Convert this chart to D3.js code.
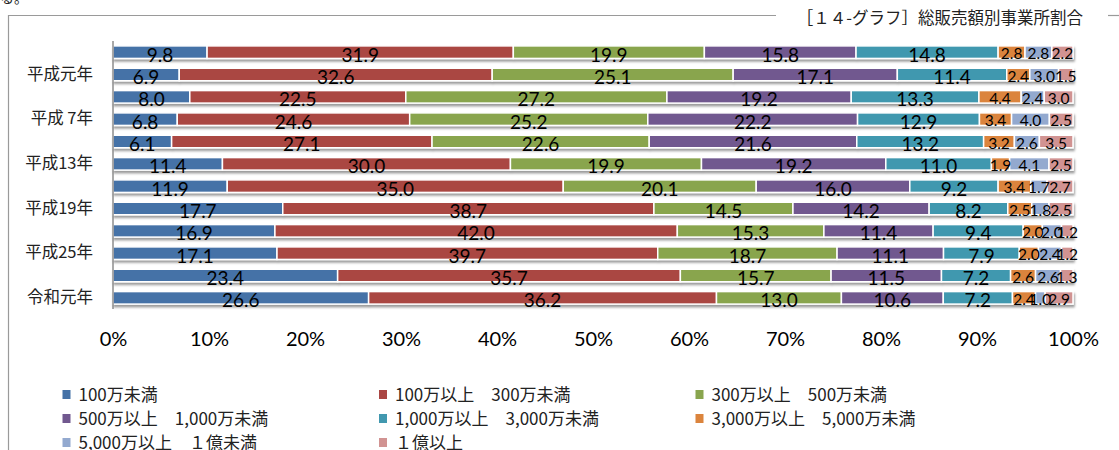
<!DOCTYPE html>
<html><head><meta charset="utf-8">
<script src="https://cdn.jsdelivr.net/npm/d3@7"></script>
<style>
html,body{margin:0;padding:0;background:#fff;}
svg{display:block;}
</style></head>
<body>
<svg id="chart" width="1119" height="450"></svg>
<script>
// ---- data ----
const categories = ["昭和61年","平成元年","平成4年","平成 7年","平成10年","平成13年","平成16年","平成19年","平成22年","平成25年","平成28年","令和元年"];
const shownLabels = ["平成元年","平成 7年","平成13年","平成19年","平成25年","令和元年"];
const seriesNames = ["100万未満","100万以上　300万未満","300万以上　500万未満","500万以上　1,000万未満","1,000万以上　3,000万未満","3,000万以上　5,000万未満","5,000万以上　１億未満","１億以上"];
const s1 = [9.8, 6.9, 8.0, 6.8, 6.1, 11.4, 11.9, 17.7, 16.9, 17.1, 23.4, 26.6];
const s2 = [31.9, 32.6, 22.5, 24.6, 27.1, 30.0, 35.0, 38.7, 42.0, 39.7, 35.7, 36.2];
const s3 = [19.9, 25.1, 27.2, 25.2, 22.6, 19.9, 20.1, 14.5, 15.3, 18.7, 15.7, 13.0];
const s4 = [15.8, 17.1, 19.2, 22.2, 21.6, 19.2, 16.0, 14.2, 11.4, 11.1, 11.5, 10.6];
const s5 = [14.8, 11.4, 13.3, 12.9, 13.2, 11.0, 9.2, 8.2, 9.4, 7.9, 7.2, 7.2];
const s6 = [2.8, 2.4, 4.4, 3.4, 3.2, 1.9, 3.4, 2.5, 2.0, 2.0, 2.6, 2.4];
const s7 = [2.8, 3.0, 2.4, 4.0, 2.6, 4.1, 1.7, 1.8, 2.0, 2.4, 2.6, 1.0];
const s8 = [2.2, 1.5, 3.0, 2.5, 3.5, 2.5, 2.7, 2.5, 1.2, 1.2, 1.3, 2.9];
const xTicks = [0, 0.1, 0.2, 0.3, 0.4, 0.5, 0.6, 0.7, 0.8, 0.9, 1.0];
const colors = ["#4572A7","#AA4643","#89A54E","#71588F","#4198AF","#DB843D","#93A9CF","#D19392"];
const title = "［１４-グラフ］総販売額別事業所割合";

const seriesVals = [s1,s2,s3,s4,s5,s6,s7,s8];
const keys = seriesNames.map((d,i)=>"k"+i);
const table = categories.map((c,r)=>{
  const o = {cat:c};
  const tot = d3.sum(seriesVals, s=>s[r]);
  keys.forEach((k,i)=>{ o[k] = seriesVals[i][r]/tot; o["v"+i] = seriesVals[i][r]; });
  return o;
});

const svg = d3.select("#chart");
const CJK = "'Noto Sans CJK JP','Noto Sans',sans-serif";
const NUM = "Lato,'Noto Sans',sans-serif";

// defs: shadow
const defs = svg.append("defs");
const f = defs.append("filter").attr("id","sh").attr("x","-2%").attr("y","-50%").attr("width","104%").attr("height","250%");
f.append("feDropShadow").attr("dx",1).attr("dy",2.5).attr("stdDeviation",1.2).attr("flood-color","#000").attr("flood-opacity",0.4);

// frame
svg.append("text").attr("x",0).attr("y",3).attr("font-family",CJK).attr("font-size",14).attr("fill","#222").text("る。");
svg.append("path").attr("d","M8.5,450 V15.5 H776").attr("fill","none").attr("stroke","#9a9a9a").attr("stroke-width",1.2);
svg.append("path").attr("d","M1108,15.5 H1119").attr("fill","none").attr("stroke","#9a9a9a").attr("stroke-width",1.2);
svg.append("text").attr("x",1083).attr("y",24).attr("text-anchor","end").attr("font-family",CJK).attr("font-size",16.5).attr("fill","#222").text(title);

// scales
const x = d3.scaleLinear().domain([0,1]).range([113,1073]);
const y = d3.scaleBand().domain(categories).range([41,309]).paddingInner(0.44).paddingOuter(0.22);

const stack = d3.stack().keys(keys)(table);

const rowsG = svg.append("g").attr("filter","url(#sh)");
stack.forEach((layer,i)=>{
  rowsG.append("g").attr("fill",colors[i]).selectAll("rect").data(layer).join("rect")
    .attr("x",d=>x(d[0])).attr("y",d=>y(d.data.cat))
    .attr("width",d=>Math.max(0,x(d[1])-x(d[0]))).attr("height",y.bandwidth())
    .attr("stroke","#fff").attr("stroke-width",1.5);
});

// axis line
svg.append("line").attr("x1",113).attr("x2",113).attr("y1",41).attr("y2",309).attr("stroke","#8c8c8c").attr("stroke-width",1.5);

// value labels
const labG = svg.append("g").attr("text-anchor","middle").attr("fill","#000");
stack.forEach((layer,i)=>{
  const big = i < 5;
  labG.append("g").selectAll("text").data(layer).join("text")
    .attr("x",d=>(x(d[0])+x(d[1]))/2)
    .attr("y",d=>y(d.data.cat)+y.bandwidth()/2 + (big?2:1))
    .attr("dominant-baseline","central")
    .attr("font-family",NUM).attr("font-size",big?19:15.5)
    .text(d=>d3.format(".1f")(d.data["v"+i]));
});

// y axis labels
const yAxis = d3.axisLeft(y).tickSize(0).tickPadding(20).tickFormat(d=>shownLabels.includes(d)?d:"");
const ya = svg.append("g").attr("transform","translate(113,0)").call(yAxis);
ya.select(".domain").remove();
ya.selectAll("text").attr("font-family",CJK).attr("font-size",16.5).attr("fill","#222");

// x axis labels
const xAxis = d3.axisBottom(x).tickValues(xTicks).tickSize(0).tickPadding(0).tickFormat(d3.format(".0%"));
const xa = svg.append("g").attr("transform","translate(0,330)").call(xAxis);
xa.select(".domain").remove();
xa.selectAll("text").attr("font-family",NUM).attr("font-size",20).attr("fill","#000").attr("dy","0.32em").attr("y",10);

// legend
const lx = [62.5,379,695.5], ly = [393,417,441];
const lg = svg.append("g");
seriesNames.forEach((n,i)=>{
  const cx = lx[i%3], cy = ly[Math.floor(i/3)];
  lg.append("rect").attr("x",cx).attr("y",cy-3).attr("width",8).attr("height",9).attr("fill",colors[i]);
  lg.append("text").attr("x",cx+16).attr("y",cy).attr("dominant-baseline","central")
    .attr("font-family",CJK).attr("font-size",17).attr("fill","#222").text(n);
});
</script>
</body></html>
